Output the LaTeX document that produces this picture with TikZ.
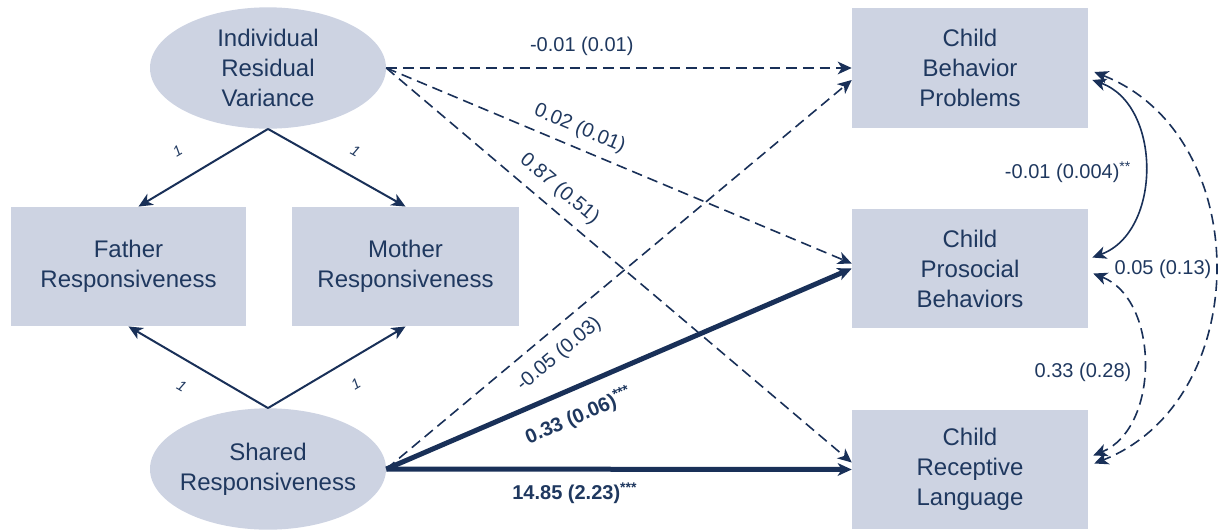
\documentclass[tikz,border=0pt]{standalone}
\usepackage{fontspec}
\setmainfont{Liberation Sans}
\usetikzlibrary{arrows.meta,shapes.geometric,calc}
\definecolor{boxfill}{RGB}{205,211,226}
\definecolor{navy}{RGB}{25,48,88}
\definecolor{txt}{RGB}{31,56,95}
\begin{document}
\begin{tikzpicture}[x=0.75pt,y=-0.75pt,
  >={Stealth[length=10.5pt,width=9.5pt,inset=3pt]},
  box/.style={rectangle, fill=boxfill, draw=none, minimum width=177pt, minimum height=89.5pt, inner sep=0pt, align=center, text=txt, font=\fontsize{18}{22.5}\selectfont},
  latent/.style={ellipse, fill=boxfill, draw=none, minimum width=177pt, minimum height=91pt, inner sep=0pt, inner xsep=-5pt, align=center, text=txt, font=\fontsize{18}{22.5}\selectfont},
  conn/.style={draw=navy, line width=1.5pt, ->},
  dashconn/.style={draw=navy, line width=1.2pt, dash pattern=on 8pt off 4.5pt, ->},
  thickconn/.style={draw=navy, line width=3.75pt, ->},
  cov/.style={draw=navy, line width=1.2pt, <->},
  dashcov/.style={cov, dash pattern=on 8pt off 4.5pt},
  lab/.style={text=txt, font=\fontsize{15}{18}\selectfont, inner sep=1pt},
  one/.style={text=txt, font=\fontsize{11}{13}\selectfont\itshape, inner sep=1pt},
]
\useasboundingbox (0,0) rectangle (1224,529);

% nodes
\node[latent] (irv) at (268,68) {Individual\\Residual\\Variance};
\node[latent] (shr) at (268,469) {Shared\\Responsiveness};
\node[box, minimum width=176.25pt] (fat) at (128.5,266.5) {Father\\Responsiveness};
\node[box, minimum width=170.25pt] (mot) at (405.5,266.5) {Mother\\Responsiveness};
\node[box] (cbp) at (970,68) {Child\\Behavior\\Problems};
\node[box] (cpb) at (970,268.5) {Child\\Prosocial\\Behaviors};
\node[box] (crl) at (970,469.5) {Child\\Receptive\\Language};

% loadings
\draw[conn] (irv.south) -- node[one, sloped, above=15pt, pos=0.59] {1} ($(fat.north)+(10,0)$);
\draw[conn] (irv.south) -- node[one, sloped, above=12.5pt, pos=0.55] {1} (mot.north);
\draw[conn] (shr.north) -- node[one, sloped, below=13pt, pos=0.53] {1} (fat.south);
\draw[conn] (shr.north) -- node[one, sloped, below=12.5pt, pos=0.55] {1} (mot.south);

% paths from individual residual variance
\draw[dashconn] (irv.east) -- node[lab, above=7.5pt, pos=0.42] {-0.01 (0.01)} (cbp.west);
\draw[dashconn] (irv.east) -- node[lab, sloped, above=5.5pt, pos=0.40] {0.02 (0.01)} ($(cpb.west)+(0,-5)$);
\draw[dashconn] (irv.east) -- node[lab, sloped, above=6pt, pos=0.345] {0.87 (0.51)} ($(crl.west)+(0,-7)$);

% paths from shared responsiveness
\draw[dashconn] (shr.east) -- node[lab, sloped, below=8.5pt, pos=0.34] {-0.05 (0.03)} ($(cbp.west)+(0,12)$);
\draw[thickconn] (shr.east) -- node[lab, sloped, below=10pt, pos=0.39, font=\fontsize{15}{18}\selectfont\bfseries] {0.33 (0.06)\textsuperscript{***}} (cpb.west);
\draw[thickconn] (shr.east) -- node[lab, below=7.5pt, pos=0.405, font=\fontsize{15}{18}\selectfont\bfseries] {14.85 (2.23)\textsuperscript{***}} (crl.west);

% covariances
\draw[cov] ($(cbp.east)+(4,12)$) .. controls (1162,105) and (1162,232) .. ($(cpb.east)+(4,-11)$);
\draw[dashcov] ($(cbp.east)+(6,4)$) .. controls (1255,135) and (1255,400) .. ($(crl.east)+(6,-6)$);
\draw[dashcov] ($(cpb.east)+(5,5)$) .. controls (1160,300) and (1160,428) .. ($(crl.east)+(5,-14)$);

\node[lab] (c1) at (1068,172) {-0.01 (0.004)\textsuperscript{**}};
\node[lab] (c2) at (1083,372) {0.33 (0.28)};
\node[lab] (c3) at (1163,269) {0.05 (0.13)};
\end{tikzpicture}
\end{document}
